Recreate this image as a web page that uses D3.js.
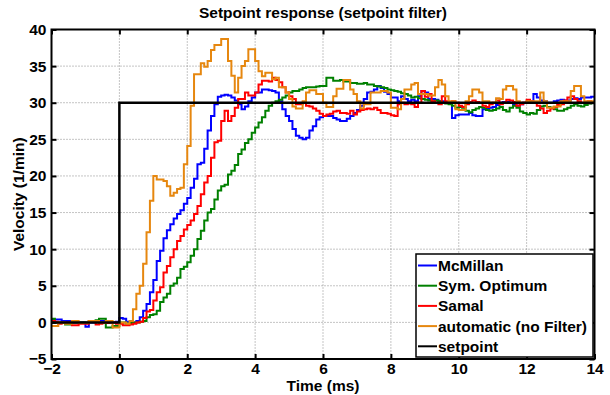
<!DOCTYPE html>
<html>
<head>
<meta charset="utf-8">
<script src="https://cdn.jsdelivr.net/npm/d3@7"></script>
<style>
body { margin: 0; background: #fff; }
svg { font-family: Arial, 'Liberation Sans', sans-serif; font-weight: bold; }
</style>
</head>
<body>
<svg></svg>
<script>
// sampled every 0.1 ms starting at -2 ms
var t0 = -2, dt = 0.1;

var mcmillan = [0.4,0.4,0.4,0.2,0.2,0.2,0,0,0,0,-0.6,0,0,0.1,0.2,0.2,0.1,0,0,0.1,0.6,0.5,0.1,0,0,
	0.2,0.7,1.6,2.5,4.1,5.8,8.4,9.8,11.5,12.6,
	13.4,14.2,14.8,15.3,16.2,17.0,18.4,19.6,21.6,21.8,
	23.7,26.2,28.2,29.8,30.8,31.0,31.1,31.0,30.7,30.3,
	29.8,29.1,29.5,30.2,30.7,31.4,31.4,31.8,31.8,31.7,
	31.6,31.4,30.2,29.1,28.2,27.5,26.4,25.5,25.2,25.0,
	25.2,26.2,26.8,27.7,28.0,28.2,28.2,28.2,27.9,27.7,
	27.5,27.5,27.8,28.2,28.6,29.0,29.6,30.5,31.4,31.5,
	31.8,32.3,32.0,31.5,31.2,30.7,30.7,30.2,30.9,30.5,
	30.2,30.4,30.2,30.9,31.6,31.4,30.5,30.5,30.4,30.2,
	30.2,30.0,30.0,27.9,28.3,28.4,28.4,28.4,28.6,28.3,
	28.2,28.2,29.1,29.2,29.3,29.4,29.7,30.0,30.1,30.1,
	30.0,29.8,29.6,29.8,30.0,30.1,30.2,31.2,30.7,30.3,
	30.2,30.0,30.0,30.2,30.3,30.4,30.3,30.3,30.5,30.6,
	30.5,30.7,30.7,30.7,30.8,30.7];

var symOptimum = [0.5,0,0,0,-0.3,-0.3,0,0,0,0,0,0.2,0.2,0.3,0.5,0.5,-0.7,-0.7,-0.5,-0.5,0,0,-0.2,-0.1,0,
	0,0.1,0.2,0.7,1.0,1.1,1.6,2.8,3.4,3.9,
	5.0,5.3,6.1,7.3,7.6,8.2,9.1,10.0,11.4,12.5,
	13.9,15.0,15.5,16.8,18.0,18.6,18.8,20.2,20.7,21.5,
	23.0,23.6,24.5,25.0,25.9,26.6,27.3,28.0,28.9,29.6,
	30.0,30.2,30.4,30.7,31.0,31.4,31.6,31.6,31.8,32.0,
	32.1,32.1,32.1,32.2,32.3,32.3,33.4,33.4,33.0,33.0,
	33.1,32.9,32.9,32.7,32.7,32.6,32.6,32.7,32.5,32.5,
	32.3,32.2,32.1,32.0,31.8,31.7,31.6,31.5,31.3,31.2,
	31.0,30.7,30.8,30.6,30.5,30.4,30.3,30.2,30.3,30.2,
	30.0,29.9,29.8,29.6,29.3,29.4,29.3,28.9,28.7,29.0,
	29.2,29.4,29.3,29.0,28.9,29.0,29.2,29.4,29.0,28.8,
	29.3,29.6,29.3,28.8,28.6,28.4,28.6,28.5,29.0,29.5,
	29.6,29.4,29.3,29.1,28.9,28.9,29.1,29.3,29.6,29.8,
	29.6,29.5,29.7,29.9,30.0,30.1];

var samal = [0.2,0.1,-0.2,0,0,0,-0.4,-0.4,-0.2,-0.2,-0.2,0.2,0.2,-0.3,-0.2,-0.1,-0.1,0,0,-0.2,-0.2,-0.4,-0.4,-0.3,-0.2,
	0,0.1,0.6,1.5,1.7,3.0,4.1,4.8,6.8,7.7,
	8.9,10.0,11.1,11.8,12.7,13.3,13.9,14.8,15.9,17.5,
	19.1,20.0,22.5,24.6,24.8,27.5,28.9,27.5,28.2,29.3,
	30.5,30.5,31.4,31.0,31.0,31.4,32.5,33.0,33.0,32.9,
	33.4,33.1,32.8,32.1,31.4,30.9,30.5,29.8,29.8,30.0,
	29.6,29.5,29.2,28.9,28.5,28.2,28.4,28.5,28.8,28.9,
	28.6,28.6,28.5,28.9,28.4,28.8,29.0,29.1,29.2,29.1,
	29.3,29.0,28.6,28.6,28.5,28.3,28.2,29.8,30.0,29.8,
	29.9,29.8,29.4,30.0,31.6,30.8,31.2,30.2,30.0,29.8,
	30.9,30.2,30.0,30.2,30.0,29.6,29.4,29.8,30.1,30.3,
	30.1,30.0,29.6,29.4,29.8,30.0,30.3,29.8,30.0,30.4,
	30.3,30.1,29.6,29.8,30.0,30.4,30.2,30.0,29.6,29.2,
	28.6,28.9,29.2,29.4,29.7,29.8,30.3,30.7,30.9,30.5,
	30.2,30.0,30.0,30.2,30.1,30.0];

var automatic = [-0.5,-0.5,0,0,-0.2,-0.2,0.2,0.2,-0.1,-0.1,-0.1,0.2,0.2,0.2,0,0,0.2,0.2,-0.7,-0.7,0,0,-0.2,0.2,1.8,
	3.9,5.0,8.0,12.3,16.6,20.0,19.5,19.5,19.3,18.6,
	17.3,17.7,18.2,18.4,21.6,24.1,29.6,33.9,33.9,35.4,
	34.9,35.7,37.2,37.9,37.9,38.7,38.7,35.7,33.7,31.4,
	33.4,35.0,35.7,37.3,37.3,35.7,34.3,33.6,34.1,34.1,
	33.2,33.4,32.1,32.1,31.4,30.5,29.5,29.2,29.2,30.2,
	31.4,31.7,31.7,31.2,31.2,30.0,29.4,29.4,30.9,31.9,
	31.9,33.1,33.1,31.8,31.2,30.2,29.2,29.8,29.8,31.4,
	31.4,31.4,31.6,31.6,31.4,29.3,29.3,29.1,30.5,31.8,
	31.8,32.5,32.7,31.2,31.2,31.2,31.0,31.0,32.1,33.1,
	32.5,30.9,30.2,30.2,29.1,29.0,29.0,30.2,30.9,31.8,
	31.8,31.4,30.2,30.2,30.0,30.0,30.6,30.5,31.8,32.3,
	32.3,31.8,30.2,30.0,30.0,30.2,30.2,30.2,30.2,31.4,
	30.2,29.3,29.3,29.5,29.5,30.2,30.2,30.2,31.6,32.3,
	32.3,30.9,30.2,30.2,30.2,30.2];

var setpointT = [-2, 0, 0, 14];
var setpointV = [0, 0, 30, 30];

var xTicks = [-2, 0, 2, 4, 6, 8, 10, 12, 14];
var yTicks = [-5, 0, 5, 10, 15, 20, 25, 30, 35, 40];

var seriesNames = ['McMillan', 'Sym. Optimum', 'Samal', 'automatic (no Filter)', 'setpoint'];
var seriesColors = ['#0000ff', '#008000', '#ff0000', '#e6870f', '#000000'];

var W = 610, H = 395;
var margin = { left: 51.5, right: 15.5, top: 29.5, bottom: 36 };
var pw = W - margin.left - margin.right,
	ph = H - margin.top - margin.bottom;

var svg = d3.select('svg').attr('width', W).attr('height', H);
var g = svg.append('g').attr('transform', 'translate(' + margin.left + ',' + margin.top + ')');

var x = d3.scaleLinear().domain([-2, 14]).range([0, pw]);
var y = d3.scaleLinear().domain([-5, 40]).range([ph, 0]);

// dotted grid
g.append('g').selectAll('line')
	.data(xTicks.slice(1, -1))
	.enter().append('line')
	.attr('x1', function(d) { return x(d); }).attr('x2', function(d) { return x(d); })
	.attr('y1', 0).attr('y2', ph)
	.attr('stroke', '#8a8a8a').attr('stroke-dasharray', '1,2');
g.append('g').selectAll('line')
	.data(yTicks.slice(1, -1))
	.enter().append('line')
	.attr('y1', function(d) { return y(d); }).attr('y2', function(d) { return y(d); })
	.attr('x1', 0).attr('x2', pw)
	.attr('stroke', '#8a8a8a').attr('stroke-dasharray', '1,2');

g.append('clipPath').attr('id', 'clip')
	.append('rect').attr('width', pw).attr('height', ph);

var line = d3.line()
	.x(function(d) { return x(d[0]); })
	.y(function(d) { return y(d[1]); });

var stairs = d3.line()
	.curve(d3.curveStepAfter)
	.x(function(d) { return x(d[0]); })
	.y(function(d) { return y(d[1]); });

var toPoints = function(vals) {
	return vals.map(function(v, i) { return [t0 + i * dt, v]; });
};

var series = [mcmillan, symOptimum, samal, automatic];
var lines = g.append('g').attr('clip-path', 'url(#clip)');
series.forEach(function(vals, i) {
	lines.append('path')
		.attr('d', stairs(toPoints(vals)))
		.attr('fill', 'none')
		.attr('stroke', seriesColors[i])
		.attr('stroke-width', 2)
		.attr('stroke-linejoin', 'miter');
});
lines.append('path')
	.attr('d', line(setpointT.map(function(t, i) { return [t, setpointV[i]]; })))
	.attr('fill', 'none')
	.attr('stroke', seriesColors[4])
	.attr('stroke-width', 2.5);

// axes, MATLAB style ticks pointing inward
var fs = 15.5;
g.append('g').attr('transform', 'translate(0,' + ph + ')')
	.call(d3.axisBottom(x).tickValues(xTicks).tickSizeInner(-5).tickSizeOuter(0).tickPadding(4));
g.append('g')
	.call(d3.axisLeft(y).tickValues(yTicks).tickSizeInner(-5).tickSizeOuter(0).tickPadding(5));
g.append('g')
	.call(d3.axisTop(x).tickValues(xTicks).tickSizeInner(-5).tickSizeOuter(0).tickFormat(''));
g.append('g').attr('transform', 'translate(' + pw + ',0)')
	.call(d3.axisRight(y).tickValues(yTicks).tickSizeInner(-5).tickSizeOuter(0).tickFormat(''));

g.selectAll('.domain').remove();
g.selectAll('.tick line').attr('stroke', '#000').attr('stroke-width', 2);
g.selectAll('.tick text')
	.attr('fill', '#000')
	.style('font-size', fs + 'px')
	.style('font-family', 'Arial, "Liberation Sans", sans-serif')
	.style('font-weight', 'bold');

g.append('rect')
	.attr('width', pw).attr('height', ph)
	.attr('fill', 'none')
	.attr('stroke', '#000')
	.attr('stroke-width', 2);

// titles
svg.append('text')
	.attr('x', margin.left + pw / 2).attr('y', 18)
	.attr('text-anchor', 'middle')
	.style('font-size', fs + 'px')
	.text('Setpoint response (setpoint filter)');
svg.append('text')
	.attr('x', margin.left + pw / 2).attr('y', 391)
	.attr('text-anchor', 'middle')
	.style('font-size', fs + 'px')
	.text('Time (ms)');
svg.append('text')
	.attr('transform', 'translate(24,' + (margin.top + ph / 2) + ') rotate(-90)')
	.attr('text-anchor', 'middle')
	.style('font-size', fs + 'px')
	.text('Velocity (1/min)');

// legend
var lg = svg.append('g').attr('transform', 'translate(416,254)');
lg.append('rect')
	.attr('width', 177).attr('height', 103)
	.attr('fill', '#fff')
	.attr('stroke', '#000')
	.attr('stroke-width', 1.5);
var row = lg.selectAll('g.row')
	.data(seriesNames)
	.enter().append('g')
	.attr('class', 'row')
	.attr('transform', function(d, i) { return 'translate(0,' + (11.5 + i * 20.2) + ')'; });
row.append('line')
	.attr('x1', 2).attr('x2', 21)
	.attr('stroke', function(d, i) { return seriesColors[i]; })
	.attr('stroke-width', 2);
row.append('text')
	.attr('x', 22).attr('dy', 5.5)
	.style('font-size', fs + 'px')
	.text(function(d) { return d; });
</script>
</body>
</html>
